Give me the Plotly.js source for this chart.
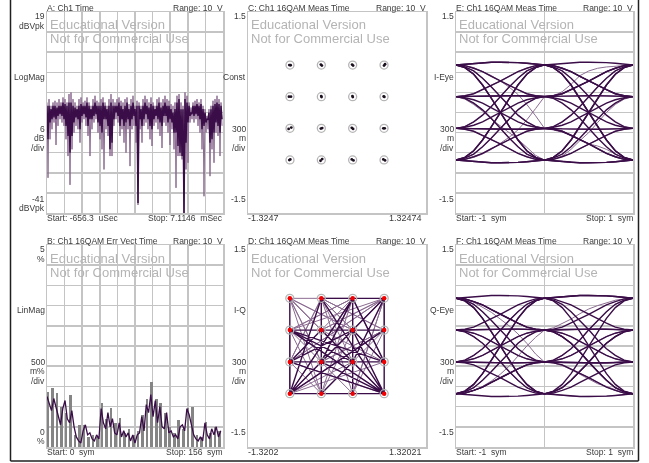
<!DOCTYPE html>
<html><head><meta charset="utf-8">
<script src="https://cdn.plot.ly/plotly-3.0.1.min.js"></script>
<style>html,body{margin:0;padding:0;background:#fff}#chart{width:649px;height:463px;filter:blur(0.4px)}</style>
</head><body><div id="chart"></div>
<script>
// ---------- data ----------
const logMagStart = -0.6563, logMagStop = 7.1146; // ms
const logMagTop = [
-8,-7,-9,-8,-7.5,-8,-7,-8,-6.5,-7,
-8,-5.5,-5,-7,-8,-9,-7,-6.5,-8,-7.5,
-6.5,-8,-9,-7,-6,-7.5,-8,-7,-6.5,-8,
-9,-7,-5.5,-7,-8,-7,-6.5,-7.5,-8,-7,
-6.5,-8.5,-7,-6,-9,-7.5,-8,-9,-7,-6,
-7,-8,-6.5,-8,-9,-7,-6.5,-8,-7,-6,
-7,-7.5,-8.5,-9,-8,-6,-5.5,-8,-9,-5,
-6,-8,-9.5,-8,-7.5,-7,-8,-7,-9,-10,
-12,-10,-9,-7.5,-7,-6,-7,-8];
const logMagLow = [
-30.5,-19,-16,-14,-20.7,-15,-13,-14,-15,-19,
-24,-32.6,-22,-17,-15,-16,-20,-14,-13,-15,
-18,-24,-16,-14,-13,-17,-19,-22,-28,-16,
-18,-24,-24,-15,-13,-14,-18,-16,-20,-23,
-16,-27,-16,-15,-20,-38.6,-16,-20,-15,-14,
-16,-19,-21,-15,-14,-16,-18,-21.6,-14,-15,
-17,-20.7,-16,-22,-33.5,-24,-24,-25,-41,-28,
-26,-14,-13,-14,-13,-15,-17,-22,-36,-17,
-16,-30,-22,-26,-17,-18,-24,-15];
const logMagCoreHigh = [
-9,-9,-10,-9,-9,-9.5,-9,-9,-8,-8.5,
-9,-8,-8,-9,-9.5,-10,-9,-8.5,-9,-9,
-8,-9,-10,-9,-8,-9,-9,-9,-8,-9,
-10,-9,-8,-9,-9,-9,-8,-9,-10,-9,
-8,-10,-9,-8,-10,-9,-9,-10,-9,-8,
-9,-9.5,-8.5,-9,-10,-9,-8,-9.5,-9,-8,
-9,-9,-10,-11,-10,-8,-7,-10,-10,-7,
-8,-9,-11,-9,-9,-8.5,-9,-8.5,-10,-11,
-13,-11,-10,-9,-8.5,-8,-8.5,-9];
const logMagCoreLow = [
-19,-14,-13,-12.5,-13,-12,-11.5,-12,-13,-15,
-18,-23,-18,-14,-12.5,-13,-16,-12,-11.5,-12.5,
-15,-13,-13,-12,-11.5,-14,-15,-17,-13,-13,
-15,-22,-20,-13,-11,-12,-15,-13,-15,-14,
-13,-15,-13,-12,-15,-38,-13,-15,-13,-11.5,
-13,-15,-16,-13,-12,-13,-14,-15,-12,-12,
-14,-13,-14,-17,-17,-21,-23,-24,-41,-20,
-14,-12,-11.5,-12,-11.5,-12,-13,-16,-15,-14,
-13,-20,-19,-17,-14,-15,-17,-13];

const evmBars = [1.35,1.46,1.34,1.0,.85,1.29,.3,.55,.55,.25,
.3,.25,1.09,.7,.96,.6,.72,.35,.45,.3,
.4,.8,1.2,1.6,1.2,1.1,.85,.5,.35,.67,
.45,.96,1.0,.3,.25,.62,.35,.5,.4];
const evmTrace = [
1.25,1.1,.9,1.2,1.0,.75,.55,.95,1.15,.7,
.6,.9,.5,.25,.15,.1,.4,.55,.3,.35,
.2,.15,.3,.2,.95,.6,.45,.85,.5,.7,
.35,.3,.6,.25,.4,.25,.35,.15,.3,.1,
.3,.35,.75,.4,1.05,.85,1.3,.75,1.15,.6,
1.0,.5,.45,.85,.35,.4,.25,.3,.2,.5,
.55,.4,.95,.8,.5,.3,.2,.15,.25,.15,
.6,.3,.2,.45,.3,.5,.25,.4];

const idealI = [-.70,-.233,.233,.70,-.70,-.233,.233,.70,-.70,-.233,.233,.70,-.70,-.233,.233,.70];
const idealQ = [.708,.708,.708,.708,.236,.236,.236,.236,-.236,-.236,-.236,-.236,-.708,-.708,-.708,-.708];
const clusterI = [-.71,-.69,-.24,-.225,.225,.24,.70,.715,-.715,-.685,-.235,-.23,.23,.235,.695,.705,
-.72,-.68,-.24,-.22,.22,.24,.69,.71,-.71,-.695,-.245,-.22,.22,.245,.69,.715];
const clusterQ = [.708,.705,.715,.70,.715,.70,.70,.72,.236,.236,.245,.23,.245,.23,.24,.232,
-.245,-.225,-.24,-.232,-.228,-.245,-.236,-.236,-.71,-.70,-.72,-.695,-.70,-.715,-.70,-.715];

const iqDark = [0,4,8,12,13,14,15,11,7,3,2,1,5,9,13,10,4,6,15,9,2,14,6,11,8,10,15,5,7,12,1,15,4,11,2,12,6,9,3,10,5,15,8,9,10,11,15,1,13,9,5,6,14,2,10,15,6,8,5,4];
const iqLight = [0,6,1,7,3,4,2,5,3,8,1,10,0,9,7,12,4,14,3,9,0,13,2,11,5,15,8,13,6,12,11,1,14,7,9,2,0,5,3,6,0,10,12,2,4,13,7,1,8,3,14];

const eyeHalf = [0,.1,.2,.3,.4,.5,.6,.7,.8,.9,1];
// level-to-level transitions: eyeSegments[from][to]
const eyeSegments = [
 [[.71,.72,.735,.745,.75,.75,.75,.745,.735,.72,.71],
  [.71,.70,.66,.61,.54,.47,.40,.34,.28,.25,.237],
  [.71,.68,.62,.51,.38,.24,.09,-.04,-.14,-.21,-.237],
  [.71,.67,.57,.41,.21,0,-.21,-.41,-.57,-.67,-.71]],
 [[.237,.25,.28,.34,.40,.47,.54,.61,.66,.70,.71],
  [.237,.24,.245,.25,.25,.25,.25,.25,.245,.24,.237],
  [.237,.22,.19,.14,.07,0,-.07,-.14,-.19,-.22,-.237],
  [.237,.21,.14,.04,-.09,-.24,-.38,-.51,-.62,-.68,-.71]],
 [[-.237,-.21,-.14,-.04,.09,.24,.38,.51,.62,.68,.71],
  [-.237,-.22,-.19,-.14,-.07,0,.07,.14,.19,.22,.237],
  [-.237,-.24,-.245,-.25,-.25,-.25,-.25,-.25,-.245,-.24,-.237],
  [-.237,-.25,-.28,-.34,-.40,-.47,-.54,-.61,-.66,-.70,-.71]],
 [[-.71,-.67,-.57,-.41,-.21,0,.21,.41,.57,.67,.71],
  [-.71,-.68,-.62,-.51,-.38,-.24,-.09,.04,.14,.21,.237],
  [-.71,-.70,-.66,-.61,-.54,-.47,-.40,-.34,-.28,-.25,-.237],
  [-.71,-.72,-.735,-.745,-.75,-.75,-.75,-.745,-.735,-.72,-.71]]
];
// symbol triples: level at -1, 0, +1 sym
const eyeIDark = [[0,0,1],[0,1,3],[0,2,0],[0,3,2],[1,0,2],[1,1,1],[1,2,3],[1,3,0],[2,0,3],[2,1,0],[2,2,2],[2,3,1],[3,0,0],[3,1,2],[3,2,1],[3,3,3],[0,0,3],[1,1,0],[2,2,3],[3,3,0],[3,0,1],[0,3,3]];
const eyeILight = [[0,1,0],[1,3,2],[2,0,1],[3,2,0],[0,2,2],[1,0,3],[2,3,3],[3,1,1]];
const eyeQDark = [[0,3,0],[0,1,1],[0,2,3],[0,0,2],[1,1,3],[1,0,0],[1,3,1],[1,2,2],[2,2,0],[2,3,2],[2,0,1],[2,1,3],[3,3,1],[3,0,3],[3,1,0],[3,2,2],[1,1,1],[2,2,2],[0,1,2],[3,2,1],[0,3,3],[3,0,0]];
const eyeQLight = [[0,2,1],[1,2,0],[2,1,1],[3,1,2],[1,3,3],[2,0,0],[0,1,3],[3,2,3]];
const eyeFullTime = [-1,-.9,-.8,-.7,-.6,-.5,-.4,-.3,-.2,-.1,0,.1,.2,.3,.4,.5,.6,.7,.8,.9,1];
const eyeISlow = [
 [.71,.70,.67,.61,.55,.47,.38,.27,.12,-.05,-.237,-.26,-.30,-.33,-.40,-.47,-.50,-.55,-.62,-.68,-.71],
 [-.71,-.70,-.67,-.62,-.55,-.46,-.37,-.26,-.11,.06,.237,.25,.31,.42,.55,.62,.66,.68,.69,.70,.71],
 [.237,.20,.12,.02,-.10,-.20,-.30,-.40,-.52,-.64,-.71,-.70,-.65,-.55,-.42,-.30,-.15,.0,.12,.20,.237]];
const eyeQSlow = [
 [.71,.69,.65,.58,.50,.40,.30,.18,.04,-.12,-.237,-.25,-.29,-.35,-.42,-.50,-.56,-.60,-.65,-.70,-.71],
 [-.71,-.69,-.66,-.60,-.52,-.42,-.30,-.15,.0,.13,.237,.27,.33,.40,.48,.55,.60,.64,.68,.70,.71]];

const titles = ['A: Ch1 Time','B: Ch1 16QAM Err Vect Time','C: Ch1 16QAM Meas Time','D: Ch1 16QAM Meas Time','E: Ch1 16QAM Meas Time','F: Ch1 16QAM Meas Time'];
const rangeLabel = 'Range: 10  V';
const startLabels = ['Start: -656.3  uSec','Start: 0  sym','-1.3247','-1.3202','Start: -1  sym','Start: -1  sym'];
const stopLabels = ['Stop: 7.1146  mSec','Stop: 156  sym','1.32474','1.32021','Stop: 1  sym','Stop: 1  sym'];
const sideLabels = [
 ['19','dBVpk','LogMag','6','dB','/div','-41','dBVpk'],
 ['5','%','LinMag','500','m%','/div','0','%'],
 ['1.5','','Const','300','m','/div','-1.5',''],
 ['1.5','','I-Q','300','m','/div','-1.5',''],
 ['1.5','','I-Eye','300','m','/div','-1.5',''],
 ['1.5','','Q-Eye','300','m','/div','-1.5','']];
const watermark = ['Educational Version','Not for Commercial Use'];

// ---------- styling ----------
const W=649,H=463, DARK='#3a0d48', LIGHT='#8c6c92', GRID='#c4c4c4', TXT='#3a3a3a';
const panels=[
 {l:47,r:223,t:12,b:213},{l:47,r:223,t:245,b:447},
 {l:248,r:426,t:12,b:213},{l:248,r:426,t:245,b:447},
 {l:456,r:633,t:12,b:213},{l:456,r:633,t:245,b:447}];
const xr=[[logMagStart,logMagStop],[0,156],[-1.3247,1.32474],[-1.3202,1.32021],[-1,1],[-1,1]];
const yr=[[-41,19],[0,5],[-1.5,1.5],[-1.5,1.5],[-1.5,1.5],[-1.5,1.5]];
const xd=[(logMagStop-logMagStart)/10,15.6,null,null,1,1];
const yd=[6,.5,null,null,.3,.3];
const yTick0=[-41,0,0,0,-1.5,-1.5];

const traces=[];
const line=(ax,x,y,c,w)=>traces.push({type:'scatter',mode:'lines',xaxis:'x'+ax,yaxis:'y'+ax,x,y,line:{color:c,width:w},hoverinfo:'skip',showlegend:false});

// A
const step=(logMagStop-logMagStart)/88;
function zig(a,b){const xs=[],ys=[];a.forEach((v,i)=>{const t=logMagStart+step*i;xs.push(t,t+step/2);ys.push(v,b[i]);});return [xs,ys];}
let z=zig(logMagTop,logMagLow); line('',z[0],z[1],LIGHT,1);
z=zig(logMagCoreHigh,logMagCoreLow); line('',z[0],z[1],DARK,1.5);
// B
traces.push({type:'bar',xaxis:'x2',yaxis:'y2',x:evmBars.map((_,i)=>i*4+.8),y:evmBars,width:2.3,marker:{color:'#858585',line:{width:0}},hoverinfo:'skip',showlegend:false});
line('2',evmTrace.map((_,i)=>i*2),evmTrace,DARK,1.3);
// C
const rings=(ax)=>traces.push({type:'scatter',mode:'markers',xaxis:'x'+ax,yaxis:'y'+ax,x:idealI,y:idealQ,marker:{symbol:'circle-open',size:8,color:'#b5b5b5',line:{width:1.3,color:'#b5b5b5'}},hoverinfo:'skip',showlegend:false});
rings('3');
traces.push({type:'scatter',mode:'markers',xaxis:'x3',yaxis:'y3',x:clusterI,y:clusterQ,marker:{size:2.8,color:'#1c1020'},hoverinfo:'skip',showlegend:false});
// D
line('4',iqLight.map(k=>idealI[k]),iqLight.map(k=>idealQ[k]),LIGHT,1);
line('4',iqDark.map(k=>idealI[k]),iqDark.map(k=>idealQ[k]),DARK,1.4);
rings('4');
traces.push({type:'scatter',mode:'markers',xaxis:'x4',yaxis:'y4',x:idealI,y:idealQ,marker:{size:4.5,color:'#f00000'},hoverinfo:'skip',showlegend:false});
// E, F
function eye(ax,triples,color,w){triples.forEach(t=>{
  const y=eyeSegments[t[0]][t[1]].concat(eyeSegments[t[1]][t[2]].slice(1));
  line(ax,eyeFullTime,y,color,w);});}
eye('5',eyeILight,LIGHT,1); eyeISlow.forEach(y=>line('5',eyeFullTime,y,LIGHT,1)); eye('5',eyeIDark,DARK,1.4);
eye('6',eyeQLight,LIGHT,1); eyeQSlow.forEach(y=>line('6',eyeFullTime,y,LIGHT,1)); eye('6',eyeQDark,DARK,1.4);

// ---------- layout ----------
const layout={width:W,height:H,margin:{l:0,r:0,t:0,b:0},paper_bgcolor:'#fff',plot_bgcolor:'#fff',showlegend:false,bargap:0,annotations:[],
 shapes:[
  {type:'line',xref:'paper',yref:'paper',x0:10.5/W,x1:10.5/W,y0:1-461/H,y1:1,line:{color:'#202020',width:1.5}},
  {type:'line',xref:'paper',yref:'paper',x0:638.5/W,x1:638.5/W,y0:1-461/H,y1:1,line:{color:'#202020',width:1.5}},
  {type:'line',xref:'paper',yref:'paper',x0:10.5/W,x1:638.5/W,y0:1-461/H,y1:1-461/H,line:{color:'#202020',width:1.5}}]};
const note=(text,x,y,anchor,size,color)=>layout.annotations.push({text,xref:'paper',yref:'paper',x:x/W,y:1-y/H,xanchor:anchor,yanchor:'middle',showarrow:false,borderpad:0,borderwidth:0,font:{family:'Liberation Sans, Arial, sans-serif',size,color}});
panels.forEach((p,i)=>{
 const s=i?String(i+1):'';
 const grid=xd[i]!==null;
 layout['xaxis'+s]={domain:[p.l/W,p.r/W],range:xr[i],anchor:'y'+s,showticklabels:false,ticks:'',zeroline:false,showline:true,mirror:true,linecolor:GRID,linewidth:1.5,showgrid:grid,gridcolor:GRID,gridwidth:1.5,tick0:xr[i][0],dtick:grid?xd[i]:undefined};
 layout['yaxis'+s]={domain:[1-p.b/H,1-p.t/H],range:yr[i],anchor:'x'+s,showticklabels:false,ticks:'',zeroline:false,showline:true,mirror:true,linecolor:GRID,linewidth:1.5,showgrid:grid,gridcolor:GRID,gridwidth:1.5,tick0:yTick0[i],dtick:grid?yd[i]:undefined};
 note(titles[i],p.l,p.t-4.5,'left',8.5,TXT);
 note(rangeLabel,p.r,p.t-4.5,'right',8.5,TXT);
 const bsize=(i==2||i==3)?9:8.5;
 note(startLabels[i],p.l,p.b+5,'left',bsize,TXT);
 note(stopLabels[i],(i==2||i==3)?p.r-4:p.r,p.b+5,'right',bsize,TXT);
 const ys=[4,14,65,117,126,136,187,196];
 sideLabels[i].forEach((t,k)=>{ if(t) note(t,p.l-2,p.t+ys[k],'right',8.5,TXT); });
 note(watermark[0],p.l+3,p.t+13,'left',13,'#b4b4b4');
 note(watermark[1],p.l+3,p.t+27,'left',13,'#b4b4b4');
});
Plotly.newPlot('chart',traces,layout,{displayModeBar:false,staticPlot:true});
</script></body></html>
